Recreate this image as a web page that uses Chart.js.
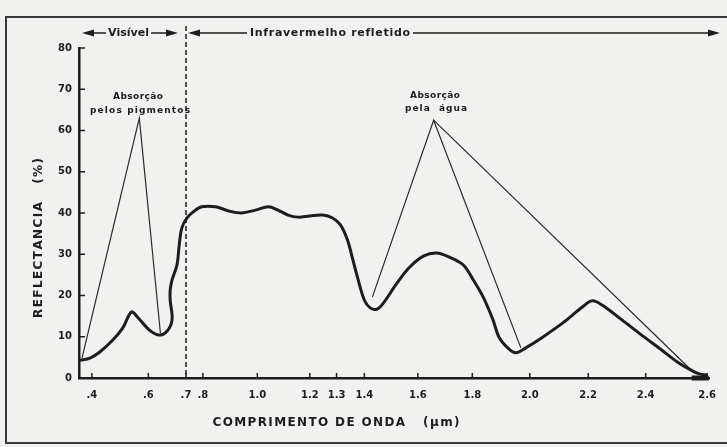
<!DOCTYPE html>
<html>
<head>
<meta charset="utf-8">
<script src="https://cdn.jsdelivr.net/npm/chart.js"></script>
<style>
  html, body { margin: 0; padding: 0; background: #f1f1ef; }
</style>
</head>
<body>
<canvas id="graficoReflectancia" width="727" height="447"></canvas>
<script>
// curva de reflectancia da vegetacao
const comprimentoOnda = [0.358, 0.393, 0.428, 0.474, 0.509, 0.540, 0.561, 0.603, 0.629, 0.650,
    0.663, 0.658, 0.658, 0.663, 0.676, 0.682, 0.689, 0.706, 0.741, 0.794,
    0.847, 0.895, 0.942, 0.993, 1.042, 1.079, 1.117, 1.155, 1.200, 1.248,
    1.285, 1.314, 1.339, 1.357, 1.375, 1.400, 1.422, 1.448, 1.474, 1.522,
    1.570, 1.622, 1.669, 1.716, 1.767, 1.803, 1.838, 1.872, 1.893, 1.928,
    1.952, 1.986, 2.044, 2.112, 2.180, 2.214, 2.248, 2.317, 2.386, 2.452,
    2.503, 2.548, 2.574, 2.600];
const reflectancia = [4.3, 4.8, 6.3, 9.2, 12.1, 16.0, 14.8, 11.6, 10.4, 11.4,
    14.1, 18.9, 21.3, 23.8, 27.4, 32.2, 36.4, 38.8, 40.2, 41.5,
    41.5, 40.5, 40.0, 40.7, 41.5, 40.7, 39.5, 39.0, 39.3, 39.5,
    38.8, 37.1, 33.5, 29.1, 24.5, 18.9, 17.0, 16.7, 18.4, 23.0,
    26.9, 29.6, 30.3, 29.3, 27.4, 23.8, 19.6, 14.1, 9.9, 7.0,
    6.1, 7.3, 9.9, 13.3, 17.2, 18.7, 17.7, 14.1, 10.4, 6.8,
    3.9, 1.9, 1.0, 0.7];

// linhas que ligam os rotulos de absorcao a curva
const pigmentosX = [0.365, 0.568, 0.632];
const pigmentosY = [4.8, 63.0, 10.9];
const aguaX = [1.430, 1.658, 1.969];
const aguaY = [19.6, 62.5, 7.3];
const agua2X = [1.658, 2.558];
const agua2Y = [62.5, 1.2];
const barraFinalX = [2.55, 2.605];
const barraFinalY = [0, 0];

const ticksOnda = [0.4, 0.6, 0.7, 0.8, 1.0, 1.2, 1.3, 1.4, 1.6, 1.8, 2.0, 2.2, 2.4, 2.6];
const rotulosOnda = ['.4', '.6', '.7', '.8', '1.0', '1.2', '1.3', '1.4', '1.6', '1.8', '2.0', '2.2', '2.4', '2.6'];
const ticksReflectancia = [0, 10, 20, 30, 40, 50, 60, 70, 80];

// o eixo da figura original nao e linear: posicao relativa de cada tick
const escalaEixo = [13, 70, 108, 125, 180, 233, 260, 288, 342, 397, 455, 514, 572, 634];
const fimEixo = 636;

function warp(v) {
    let i = 0;
    while (i < ticksOnda.length - 2 && v > ticksOnda[i + 1]) i++;
    const t0 = ticksOnda[i], t1 = ticksOnda[i + 1];
    const p0 = escalaEixo[i], p1 = escalaEixo[i + 1];
    return p0 + (v - t0) * (p1 - p0) / (t1 - t0);
}

function pontos(xs, ys) {
    return xs.map((x, i) => ({ x: warp(x), y: ys[i] }));
}

const tinta = '#1d1d1d';
const fonte = '"DejaVu Sans", sans-serif';

function textoEspacado(ctx, texto, cx, cy, largura) {
    const chars = Array.from(texto);
    const larguras = chars.map(c => ctx.measureText(c).width);
    const total = larguras.reduce((a, b) => a + b, 0);
    const esp = chars.length > 1 ? (largura - total) / (chars.length - 1) : 0;
    let x = cx - largura / 2;
    ctx.textAlign = 'left';
    ctx.textBaseline = 'middle';
    chars.forEach((c, i) => {
        ctx.fillText(c, x, cy);
        x += larguras[i] + esp;
    });
}

function seta(ctx, xPonta, y, dir) {
    ctx.beginPath();
    ctx.moveTo(xPonta, y);
    ctx.lineTo(xPonta - dir * 12, y - 3.5);
    ctx.lineTo(xPonta - dir * 12, y + 3.5);
    ctx.closePath();
    ctx.fill();
}

const decoracao = {
    id: 'decoracao',
    beforeDraw(chart) {
        const ctx = chart.ctx;
        ctx.save();
        ctx.fillStyle = '#f1f1ef';
        ctx.fillRect(0, 0, chart.width, chart.height);
        ctx.strokeStyle = '#3a3a3a';
        ctx.lineWidth = 2;
        ctx.strokeRect(6, 17, 760, 426);
        ctx.restore();
    },
    beforeDatasetsDraw(chart) {
        const { ctx, chartArea, scales: { x } } = chart;
        const xd = x.getPixelForValue(warp(0.7));
        ctx.save();
        ctx.strokeStyle = tinta;
        ctx.lineWidth = 1.5;
        ctx.setLineDash([5, 3]);
        ctx.beginPath();
        ctx.moveTo(xd, 26);
        ctx.lineTo(xd, chartArea.bottom);
        ctx.stroke();
        ctx.restore();
    },
    afterDraw(chart) {
        const { ctx, chartArea, scales: { x, y } } = chart;
        ctx.save();
        ctx.strokeStyle = tinta;
        ctx.fillStyle = tinta;

        // ticks para dentro
        ctx.lineWidth = 1.5;
        ctx.beginPath();
        x.ticks.forEach(t => {
            const px = x.getPixelForValue(t.value);
            ctx.moveTo(px, chartArea.bottom);
            ctx.lineTo(px, chartArea.bottom - 5);
        });
        y.ticks.forEach(t => {
            const py = y.getPixelForValue(t.value);
            ctx.moveTo(chartArea.left, py);
            ctx.lineTo(chartArea.left + 6, py);
        });
        ctx.stroke();

        // setas do topo
        const ya = 33;
        const xd = x.getPixelForValue(warp(0.7));
        ctx.lineWidth = 1.5;
        ctx.beginPath();
        ctx.moveTo(88, ya); ctx.lineTo(106, ya);
        ctx.moveTo(151, ya); ctx.lineTo(172, ya);
        ctx.moveTo(xd + 6, ya); ctx.lineTo(247, ya);
        ctx.moveTo(413, ya); ctx.lineTo(714, ya);
        ctx.stroke();
        seta(ctx, 82, ya, -1);
        seta(ctx, 178, ya, 1);
        seta(ctx, xd + 2, ya, -1);
        seta(ctx, 720, ya, 1);

        ctx.font = 'bold 11px ' + fonte;
        textoEspacado(ctx, 'Visível', 128.5, ya, 41);
        textoEspacado(ctx, 'Infravermelho refletido', 330, ya, 160);

        // rotulos de absorcao
        ctx.font = 'bold 9px ' + fonte;
        textoEspacado(ctx, 'Absorção', 138, 97, 50);
        textoEspacado(ctx, 'pelos pigmentos', 140, 111, 100);
        textoEspacado(ctx, 'Absorção', 435, 96, 50);
        textoEspacado(ctx, 'pela  água', 436, 109, 62);

        // titulos dos eixos
        ctx.font = 'bold 12px ' + fonte;
        textoEspacado(ctx, 'COMPRIMENTO DE ONDA   (μm)', 336, 423, 247);
        ctx.translate(39, 238);
        ctx.rotate(-Math.PI / 2);
        textoEspacado(ctx, 'REFLECTANCIA   (%)', 0, 0, 160);
        ctx.restore();
    }
};

const ctx = document.getElementById('graficoReflectancia').getContext('2d');
new Chart(ctx, {
    type: 'line',
    data: {
        datasets: [
            {
                label: 'Reflectância',
                data: pontos(comprimentoOnda, reflectancia),
                borderColor: tinta,
                borderWidth: 3,
                pointRadius: 0,
                tension: 0.35,
                fill: false
            },
            {
                label: 'pigmentos',
                data: pontos(pigmentosX, pigmentosY),
                borderColor: '#2a2a2a',
                borderWidth: 1.2,
                pointRadius: 0,
                tension: 0
            },
            {
                label: 'agua',
                data: pontos(aguaX, aguaY),
                borderColor: '#2a2a2a',
                borderWidth: 1.2,
                pointRadius: 0,
                tension: 0
            },
            {
                label: 'agua2',
                data: pontos(agua2X, agua2Y),
                borderColor: '#2a2a2a',
                borderWidth: 1.2,
                pointRadius: 0,
                tension: 0
            },
            {
                label: 'barra',
                data: pontos(barraFinalX, barraFinalY),
                borderColor: tinta,
                borderWidth: 5,
                pointRadius: 0,
                clip: false
            }
        ]
    },
    options: {
        responsive: false,
        animation: false,
        layout: { padding: { top: 48, right: 12, left: 0, bottom: 0 } },
        plugins: {
            legend: { display: false },
            tooltip: { enabled: false }
        },
        scales: {
            x: {
                type: 'linear',
                min: 0,
                max: fimEixo,
                afterFit(scale) { scale.height = 69; },
                afterBuildTicks(scale) {
                    scale.ticks = ticksOnda.map(v => ({ value: warp(v) }));
                },
                border: { color: tinta, width: 2.5 },
                grid: { display: false, drawTicks: false },
                ticks: {
                    autoSkip: false,
                    maxRotation: 0,
                    padding: 11,
                    color: tinta,
                    font: { family: fonte, size: 10, weight: 'bold' },
                    callback: (value, index) => rotulosOnda[index]
                }
            },
            y: {
                min: 0,
                max: 80,
                afterFit(scale) { scale.width = 79; },
                afterBuildTicks(scale) {
                    scale.ticks = ticksReflectancia.map(v => ({ value: v }));
                },
                border: { color: tinta, width: 2.5 },
                grid: { display: false, drawTicks: false },
                ticks: {
                    padding: 7,
                    color: tinta,
                    font: { family: fonte, size: 10, weight: 'bold' }
                }
            }
        }
    },
    plugins: [decoracao]
});
</script>
</body>
</html>
